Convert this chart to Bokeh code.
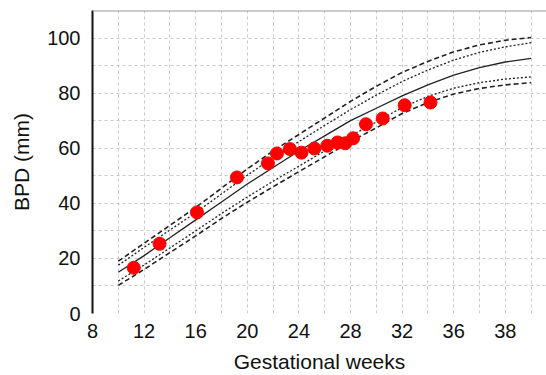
from bokeh.plotting import figure
from bokeh.models import FixedTicker, Range1d, Span
from bokeh.embed import file_html
from bokeh.resources import INLINE

# Reference curve weeks
curve_weeks = [10, 12, 14, 16, 18, 20, 22, 24, 26, 28, 30, 32, 34, 36, 38, 40, 42]
upper_outer = [19.0, 25.5, 32.0, 38.5, 45.5, 52.5, 59.0, 65.0, 71.0, 77.0, 82.5, 87.5, 91.5, 95.0, 97.5, 99.2, 100.2]
upper_inner = [17.5, 24.0, 30.3, 36.6, 43.4, 50.2, 56.6, 62.4, 68.3, 74.0, 79.3, 84.2, 88.4, 92.0, 94.8, 96.8, 98.3]
median = [15.0, 21.0, 27.5, 34.0, 40.5, 47.0, 53.0, 59.0, 64.5, 70.0, 74.5, 79.0, 83.0, 86.5, 89.3, 91.3, 92.6]
lower_inner = [11.8, 17.6, 23.8, 30.0, 36.3, 42.3, 48.0, 53.5, 59.0, 64.5, 69.5, 74.8, 78.8, 81.8, 83.8, 85.1, 85.9]
lower_outer = [10.2, 16.0, 22.1, 28.2, 34.5, 40.4, 46.0, 51.5, 56.9, 62.4, 67.4, 72.6, 76.6, 79.7, 81.7, 83.0, 83.8]

# Measured points
dot_weeks = [11.2, 13.2, 16.1, 19.2, 21.6, 22.3, 23.3, 24.2, 25.2, 26.2, 27.0, 27.6, 28.2, 29.2, 30.5, 32.2, 34.2]
dot_bpd = [16.6, 25.3, 36.7, 49.4, 54.5, 58.1, 59.7, 58.4, 59.9, 60.9, 62.1, 61.8, 63.6, 68.7, 70.8, 75.6, 76.6]

x_ticks = [8, 12, 16, 20, 24, 28, 32, 36, 40]
x_tick_labels = ["8", "12", "16", "20", "24", "28", "32", "36", "38"]
y_ticks = [0, 20, 40, 60, 80, 100]
x_grid = [10, 12, 14, 16, 18, 20, 22, 24, 26, 28, 30, 32, 34, 36, 38, 40, 42]
y_grid = [0, 10, 20, 30, 40, 50, 60, 70, 80, 90, 100]

FONT = "Liberation Sans"

p = figure(width=546, height=375, output_backend="svg", toolbar_location=None,
           x_range=Range1d(8, 8 + 454 / 12.9), y_range=Range1d(0, 110),
           min_border_left=92, min_border_right=0, min_border_top=10, min_border_bottom=62)
p.outline_line_color = None
p.background_fill_color = "white"
p.border_fill_color = "white"

# grid
p.xgrid.ticker = FixedTicker(ticks=x_grid)
p.ygrid.ticker = FixedTicker(ticks=y_grid)
for g in (p.xgrid, p.ygrid):
    g.grid_line_color = "#c8c8c8"
    g.grid_line_dash = "3 3"
    g.grid_line_width = 1

# top border
p.add_layout(Span(location=110, dimension="width", line_color="#9a9a9a", line_width=2))

# axes
p.xaxis.ticker = FixedTicker(ticks=x_ticks)
p.xaxis.major_label_overrides = {t: l for t, l in zip(x_ticks, x_tick_labels)}
p.yaxis.ticker = FixedTicker(ticks=y_ticks)
for ax in (p.xaxis, p.yaxis):
    ax.major_tick_line_color = None
    ax.minor_tick_line_color = None
    ax.major_tick_out = 0
    ax.major_tick_in = 0
    ax.major_label_text_font = FONT
    ax.major_label_text_font_size = "20px"
    ax.major_label_text_color = "#111111"
    ax.axis_label_text_font = FONT
    ax.axis_label_text_font_size = "21px"
    ax.axis_label_text_font_style = "normal"
    ax.axis_label_text_color = "#111111"
p.xaxis.axis_line_color = None
p.yaxis.axis_line_color = "#111111"
p.yaxis.axis_line_width = 2
p.xaxis.axis_label = "Gestational weeks"
p.yaxis.axis_label = "BPD (mm)"
p.xaxis.major_label_standoff = 10
p.xaxis.axis_label_standoff = 9
p.yaxis.major_label_standoff = 12
p.yaxis.axis_label_standoff = 11

# curves
p.line(curve_weeks, upper_outer, line_color="#222222", line_width=1.6, line_dash="5 3")
p.line(curve_weeks, upper_inner, line_color="#222222", line_width=1.3, line_dash="2 2")
p.line(curve_weeks, median, line_color="#222222", line_width=1.3)
p.line(curve_weeks, lower_inner, line_color="#222222", line_width=1.3, line_dash="2 2")
p.line(curve_weeks, lower_outer, line_color="#222222", line_width=1.6, line_dash="5 3")

# points
p.scatter(dot_weeks, dot_bpd, size=13, marker="circle", fill_color="#ff0000", line_color="#ff0000")

open("out.html", "w").write(file_html(p, INLINE))
